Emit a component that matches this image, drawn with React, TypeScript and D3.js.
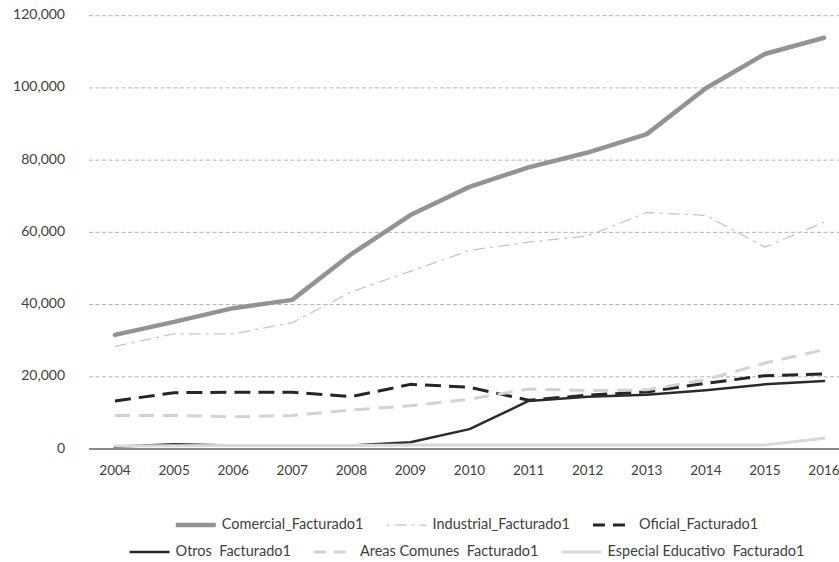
import { useEffect, useRef } from 'react'
import * as d3 from 'd3'

const W = 839, H = 562

const years = ['2004', '2005', '2006', '2007', '2008', '2009', '2010', '2011', '2012', '2013', '2014', '2015', '2016']

const comercial = [31600, 35200, 39000, 41300, 54000, 64800, 72600, 78000, 82100, 87200, 99900, 109400, 113900]
const industrial = [28400, 31900, 31900, 35000, 43500, 49200, 55000, 57300, 59000, 65500, 64700, 55900, 62800]
const oficial = [13300, 15600, 15700, 15700, 14500, 17900, 17100, 13500, 14900, 15800, 18200, 20300, 20800]
const otros = [600, 1300, 1000, 1000, 1000, 1850, 5500, 13300, 14500, 15000, 16300, 17900, 18800]
const areasComunes = [9300, 9300, 8900, 9300, 10800, 12000, 13800, 16600, 16200, 16400, 19200, 23800, 27500]
const especialEducativo = [800, 900, 1000, 1000, 1000, 1100, 1100, 1100, 1100, 1100, 1100, 1100, 3000]

const yTicks = [0, 20000, 40000, 60000, 80000, 100000, 120000]

const FONT = 'Lato, sans-serif'
const TEXT = '#404040'

const series = [
  { name: 'Comercial_Facturado1', values: comercial, color: '#939393', width: 4.5, dash: '', legendDash: '', cap: 'round' },
  { name: 'Industrial_Facturado1', values: industrial, color: '#c4c4c4', width: 1.25, dash: '12 5 3 5', legendDash: '3 5 12 5', cap: 'butt' },
  { name: 'Oficial_Facturado1', values: oficial, color: '#262626', width: 3, dash: '16 8', legendDash: '12 8', cap: 'butt' },
  { name: 'Otros  Facturado1', values: otros, color: '#2b2b2b', width: 2.5, dash: '', legendDash: '', cap: 'round' },
  { name: 'Areas Comunes  Facturado1', values: areasComunes, color: '#d2d2d2', width: 3, dash: '15 9', legendDash: '12 8', cap: 'butt' },
  { name: 'Especial Educativo  Facturado1', values: especialEducativo, color: '#d9d9d9', width: 3, dash: '', legendDash: '', cap: 'round' },
]

export default function App() {
  const svgRef = useRef<SVGSVGElement>(null)

  useEffect(() => {
    const svg = d3.select(svgRef.current!)
    svg.selectAll('*').remove()

    const left = 89, right = W
    const x = d3.scalePoint<string>().domain(years).range([115, 824])
    const y = d3.scaleLinear().domain([0, 120000]).range([449, 15.7])

    // gridlines
    svg.append('g').selectAll('line').data(yTicks.filter(t => t > 0)).join('line')
      .attr('x1', left).attr('x2', right)
      .attr('y1', d => y(d)).attr('y2', d => y(d))
      .attr('stroke', '#b3b3b3').attr('stroke-width', 1).attr('stroke-dasharray', '4 2.5')

    // y labels
    svg.append('g').selectAll('text').data(yTicks).join('text')
      .attr('x', 65).attr('y', d => y(d)).attr('text-anchor', 'end')
      .attr('dominant-baseline', 'middle')
      .attr('font-family', FONT).attr('font-size', 14).attr('fill', TEXT)
      .text(d => d3.format(',')(d))

    // x axis
    svg.append('line').attr('x1', left).attr('x2', right)
      .attr('y1', y(0)).attr('y2', y(0)).attr('stroke', '#1a1a1a').attr('stroke-width', 1)
    svg.append('g').selectAll('text').data(years).join('text')
      .attr('x', d => x(d)!).attr('y', 472).attr('text-anchor', 'middle')
      .attr('dominant-baseline', 'middle')
      .attr('font-family', FONT).attr('font-size', 13.5).attr('fill', TEXT)
      .text(d => d)

    // series lines
    const line = d3.line<number>().x((_, i) => x(years[i])!).y(v => y(v))
    series.forEach(s => {
      svg.append('path').datum(s.values)
        .attr('fill', 'none').attr('stroke', s.color).attr('stroke-width', s.width)
        .attr('stroke-dasharray', s.dash || null)
        .attr('stroke-linecap', s.cap).attr('stroke-linejoin', 'round')
        .attr('d', line)
    })

    // legend, two centered rows
    const rows = [series.slice(0, 3), series.slice(3)]
    const rowY = [525, 552]
    const symW = 40, symGap = 6, itemGap = 23, cx = 467, fs = 14.5
    rows.forEach((items, r) => {
      const g = svg.append('g')
      const widths: number[] = []
      items.forEach(s => {
        const t = g.append('text').attr('font-family', FONT).attr('font-size', fs)
          .style('white-space', 'pre').text(s.name)
        widths.push((t.node() as SVGTextElement).getComputedTextLength())
        t.remove()
      })
      const total = d3.sum(widths) + items.length * (symW + symGap) + (items.length - 1) * itemGap
      let gx = cx - total / 2
      items.forEach((s, i) => {
        g.append('line').attr('x1', gx).attr('x2', gx + symW)
          .attr('y1', rowY[r]).attr('y2', rowY[r])
          .attr('stroke', s.color).attr('stroke-width', s.width)
          .attr('stroke-dasharray', s.legendDash || null)
        g.append('text').attr('x', gx + symW + symGap).attr('y', rowY[r])
          .attr('font-family', FONT).attr('font-size', fs).attr('fill', TEXT)
          .attr('dominant-baseline', 'middle').style('white-space', 'pre')
          .text(s.name)
        gx += symW + symGap + widths[i] + itemGap
      })
    })
  }, [])

  return (
    <svg ref={svgRef} width={W} height={H} viewBox={`0 0 ${W} ${H}`}
      style={{ position: 'absolute', left: 0, top: 0, background: '#fff' }} />
  )
}
